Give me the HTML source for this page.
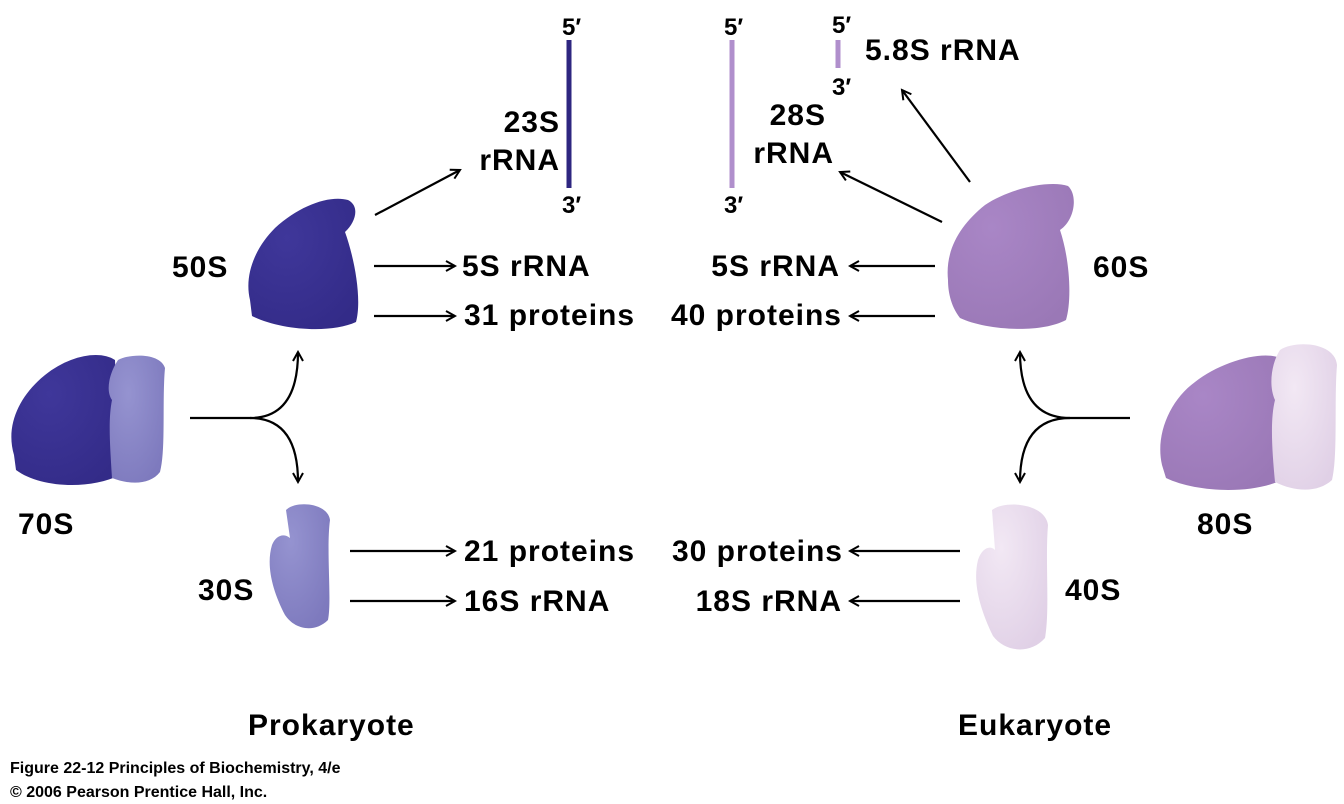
<!DOCTYPE html>
<html><head><meta charset="utf-8"><style>
html,body{margin:0;padding:0;background:#fff;}
svg{display:block}
text{font-family:"Liberation Sans",sans-serif;font-weight:bold;fill:#000}
</style></head><body>
<svg width="1344" height="804" viewBox="0 0 1344 804" xmlns="http://www.w3.org/2000/svg">
<defs>
<marker id="a" markerWidth="12" markerHeight="12" refX="10" refY="6" orient="auto" markerUnits="userSpaceOnUse">
<path d="M1,1 L10,6 L1,11" fill="none" stroke="#000" stroke-width="2"/></marker>
<radialGradient id="gD" cx="0.35" cy="0.3" r="0.8"><stop offset="0" stop-color="#3f379a"/><stop offset="1" stop-color="#332b88"/></radialGradient>
<radialGradient id="gL" cx="0.35" cy="0.3" r="0.8"><stop offset="0" stop-color="#9593d0"/><stop offset="1" stop-color="#7d79bd"/></radialGradient>
<radialGradient id="gP" cx="0.35" cy="0.3" r="0.8"><stop offset="0" stop-color="#a986c6"/><stop offset="1" stop-color="#9a78b6"/></radialGradient>
<radialGradient id="gW" cx="0.35" cy="0.3" r="0.8"><stop offset="0" stop-color="#f2e8f4"/><stop offset="1" stop-color="#e0d0e6"/></radialGradient>
</defs>

<path d="M250,300 C244,275 255,248 275,228 C300,205 330,195 348,200 C360,206 356,222 345,232 C355,260 362,300 356,322 C330,334 280,330 252,316 Z" fill="url(#gD)"/>
<path d="M14,455 C5,425 20,395 45,375 C70,355 100,350 115,360 L120,475 C90,490 40,488 16,470 Z" fill="url(#gD)"/>
<path d="M118,360 C128,354 160,352 165,368 C162,400 166,450 160,472 C150,485 130,485 112,478 C110,445 108,420 112,400 C105,390 110,372 118,360 Z" fill="url(#gL)"/>
<path d="M286,510 C296,500 328,503 330,520 C326,550 332,600 328,620 C315,633 295,630 285,615 C272,590 266,565 272,545 C276,535 284,533 290,538 Z" fill="url(#gL)"/>
<path d="M948,280 C945,250 960,225 985,205 C1010,188 1050,180 1068,186 C1078,195 1075,220 1060,230 C1070,260 1072,300 1066,320 C1040,334 985,330 960,318 C950,305 948,290 948,280 Z" fill="url(#gP)"/>
<path d="M1162,465 C1155,435 1170,400 1195,382 C1220,362 1262,350 1280,358 L1282,480 C1250,495 1195,492 1166,478 Z" fill="url(#gP)"/>
<path d="M1280,350 C1295,340 1335,342 1337,365 C1334,400 1338,455 1332,480 C1318,493 1295,492 1275,482 C1272,450 1270,420 1275,400 C1268,385 1272,362 1280,350 Z" fill="url(#gW)"/>
<path d="M992,510 C1005,500 1045,503 1048,525 C1045,560 1050,610 1045,638 C1030,655 1005,652 993,636 C978,605 973,580 978,560 C982,548 990,545 995,550 Z" fill="url(#gW)"/>

<line x1="569" y1="40" x2="569" y2="188" stroke="#2e2680" stroke-width="5"/>
<line x1="732" y1="40" x2="732" y2="188" stroke="#b08fcc" stroke-width="5"/>
<line x1="838" y1="40" x2="838" y2="68" stroke="#b08fcc" stroke-width="5"/>

<g stroke="#000" stroke-width="2.2" fill="none" marker-end="url(#a)">
<line x1="375" y1="215" x2="460" y2="170"/>
<line x1="374" y1="266" x2="455" y2="266"/>
<line x1="374" y1="316" x2="455" y2="316"/>
<line x1="350" y1="551" x2="455" y2="551"/>
<line x1="350" y1="601" x2="455" y2="601"/>
<line x1="935" y1="266" x2="850" y2="266"/>
<line x1="935" y1="316" x2="850" y2="316"/>
<line x1="960" y1="551" x2="850" y2="551"/>
<line x1="960" y1="601" x2="850" y2="601"/>
<line x1="942" y1="222" x2="840" y2="172"/>
<line x1="970" y1="182" x2="902" y2="90"/>
<path d="M190,418 L250,418 Q298,418 298,352"/>
<path d="M250,418 Q298,418 298,482"/>
<path d="M1130,418 L1070,418 Q1020,418 1020,352"/>
<path d="M1070,418 Q1020,418 1020,482"/>
</g>

<g font-size="30" letter-spacing="1">
<text x="172" y="277">50S</text>
<text x="18" y="534">70S</text>
<text x="198" y="600">30S</text>
<text x="1093" y="277">60S</text>
<text x="1197" y="534">80S</text>
<text x="1065" y="600">40S</text>
<text x="462" y="276">5S rRNA</text>
<text x="464" y="325">31 proteins</text>
<text x="464" y="561">21 proteins</text>
<text x="464" y="611">16S rRNA</text>
<text x="840" y="276" text-anchor="end">5S rRNA</text>
<text x="842" y="325" text-anchor="end">40 proteins</text>
<text x="843" y="561" text-anchor="end">30 proteins</text>
<text x="842" y="611" text-anchor="end">18S rRNA</text>
<text x="560" y="132" text-anchor="end">23S</text>
<text x="560" y="170" text-anchor="end">rRNA</text>
<text x="826" y="125" text-anchor="end">28S</text>
<text x="834" y="163" text-anchor="end">rRNA</text>
<text x="865" y="60">5.8S rRNA</text>
<text x="248" y="735">Prokaryote</text>
<text x="958" y="735">Eukaryote</text>
</g>
<g font-size="24">
<text x="562" y="35">5′</text>
<text x="562" y="213">3′</text>
<text x="724" y="35">5′</text>
<text x="724" y="213">3′</text>
<text x="832" y="33">5′</text>
<text x="832" y="95">3′</text>
</g>
<g font-size="16">
<text x="10" y="773">Figure 22-12  Principles of Biochemistry, 4/e</text>
<text x="10" y="797">© 2006 Pearson Prentice Hall, Inc.</text>
</g>
</svg>
</body></html>
